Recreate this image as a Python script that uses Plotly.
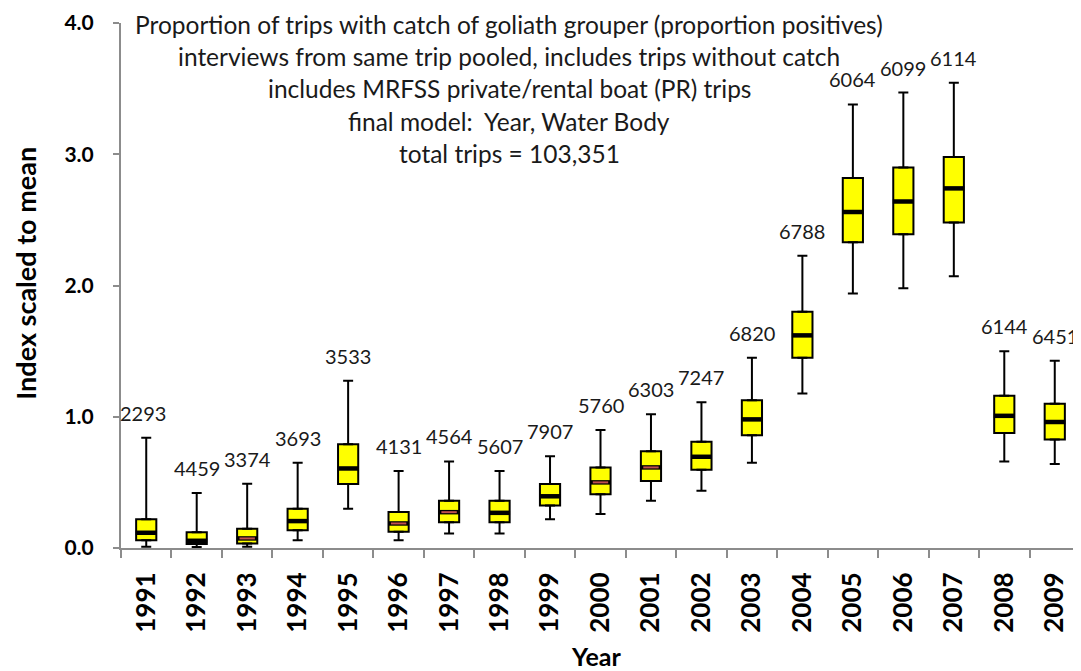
import plotly.graph_objects as go

years = [str(y) for y in range(1991, 2010)]
upper = [0.84, 0.42, 0.49, 0.65, 1.275, 0.586, 0.66, 0.586, 0.70, 0.90, 1.02, 1.11, 1.45, 2.227, 3.38, 3.47, 3.545, 1.50, 1.427]
q3 = [0.22, 0.12, 0.146, 0.30, 0.79, 0.275, 0.36, 0.36, 0.487, 0.614, 0.737, 0.81, 1.126, 1.80, 2.82, 2.90, 2.98, 1.16, 1.10]
median = [0.116, 0.055, 0.073, 0.205, 0.606, 0.187, 0.273, 0.268, 0.394, 0.50, 0.614, 0.695, 0.98, 1.62, 2.56, 2.64, 2.74, 1.007, 0.96]
q1 = [0.06, 0.03, 0.035, 0.136, 0.487, 0.124, 0.197, 0.197, 0.323, 0.41, 0.51, 0.596, 0.86, 1.45, 2.33, 2.39, 2.48, 0.876, 0.826]
lower = [0.01, 0.008, 0.01, 0.06, 0.30, 0.06, 0.11, 0.11, 0.22, 0.26, 0.36, 0.437, 0.65, 1.177, 1.94, 1.98, 2.07, 0.66, 0.64]
trips = ["2293", "4459", "3374", "3693", "3533", "4131", "4564", "5607", "7907", "5760",
         "6303", "7247", "6820", "6788", "6064", "6099", "6114", "6144", "6451"]
red_median_years = ["1993", "1996", "1997", "2000", "2001"]

title_lines = [
    "Proportion of trips with catch of goliath grouper (proportion positives)",
    "interviews from same trip pooled, includes trips without catch",
    "includes MRFSS private/rental boat (PR) trips",
    "final model:  Year, Water Body",
    "total trips = 103,351",
]

FONT = "Lato"
AXIS_GREY = "#8c8c8c"

fig = go.Figure()

# boxes (q1..q3)
fig.add_trace(go.Bar(
    x=years, y=[b - a for a, b in zip(q1, q3)], base=q1, width=0.4,
    marker=dict(color="#ffff00", line=dict(color="black", width=2)),
    showlegend=False, hoverinfo="skip",
))
# upper whiskers
fig.add_trace(go.Scatter(
    x=years, y=q3, mode="markers", marker=dict(size=1, color="rgba(0,0,0,0)"),
    error_y=dict(type="data", symmetric=False, array=[u - b for u, b in zip(upper, q3)],
                 arrayminus=[0] * len(years), color="black", thickness=2, width=5),
    showlegend=False, hoverinfo="skip",
))
# lower whiskers
fig.add_trace(go.Scatter(
    x=years, y=q1, mode="markers", marker=dict(size=1, color="rgba(0,0,0,0)"),
    error_y=dict(type="data", symmetric=False, array=[0] * len(years),
                 arrayminus=[a - l for a, l in zip(q1, lower)], color="black", thickness=2, width=5),
    showlegend=False, hoverinfo="skip",
))
# medians (black dash)
fig.add_trace(go.Scatter(
    x=years, y=median, mode="markers",
    marker=dict(symbol="line-ew", size=15, line=dict(color="black", width=4.5)),
    showlegend=False, hoverinfo="skip",
))
# red medians
red_x = [y for y in years if y in red_median_years]
red_y = [m for y, m in zip(years, median) if y in red_median_years]
fig.add_trace(go.Scatter(
    x=red_x, y=red_y, mode="markers",
    marker=dict(symbol="line-ew", size=11, line=dict(color="#c0504d", width=2)),
    showlegend=False, hoverinfo="skip",
))

annotations = []
for i, (u, t) in enumerate(zip(upper, trips)):
    annotations.append(dict(x=i, y=u, text=t, showarrow=False, yanchor="middle",
                            yshift=25, xshift=(-3 if i == 0 else 0),
                            font=dict(family=FONT, size=20, color="#1a1a1a")))

line_y = [0.998, 0.9364, 0.8749, 0.8133, 0.7518]
for txt, ly in zip(title_lines, line_y):
    annotations.append(dict(xref="paper", yref="paper", x=0.405, y=ly, text=txt,
                            showarrow=False, xanchor="center", yanchor="middle",
                            font=dict(family=FONT, size=24.5, color="#1a1a1a")))

annotations.append(dict(xref="paper", yref="paper", x=-0.100, y=0.5227,
                        text="<b>Index scaled to mean</b>", textangle=-90, showarrow=False,
                        xanchor="center", yanchor="middle",
                        font=dict(family=FONT, size=27, color="black")))
annotations.append(dict(xref="paper", yref="paper", x=0.4948, y=-0.205,
                        text="<b>Year</b>", showarrow=False,
                        xanchor="center", yanchor="middle",
                        font=dict(family=FONT, size=25, color="black")))

# page body has an 8px margin: figure is placed at (8, 8)
fig.update_layout(
    width=1073, height=663,
    margin=dict(l=113, r=1, t=12, b=123),
    paper_bgcolor="white", plot_bgcolor="white",
    bargap=0.6,
    annotations=annotations,
    xaxis=dict(
        type="category", categoryorder="array", categoryarray=years,
        range=[-0.5, len(years) - 0.5], autorange=False,
        showline=True, linecolor=AXIS_GREY, linewidth=2,
        ticks="outside", tickson="boundaries", ticklen=8, tickcolor=AXIS_GREY, tickwidth=1.5,
        tickangle=-90, ticklabelstandoff=12,
        tickfont=dict(family=FONT, size=26, color="black", weight="bold"),
        showgrid=False, zeroline=False,
    ),
    yaxis=dict(
        range=[0, 4], autorange=False, dtick=1, tick0=0, tickformat=".1f",
        showline=True, linecolor=AXIS_GREY, linewidth=2,
        ticks="outside", ticklen=6, tickcolor=AXIS_GREY, tickwidth=1.5,
        ticklabelposition="outside", ticklabelstandoff=15, ticklabeloverflow="allow",
        tickfont=dict(family=FONT, size=21, color="black", weight="bold"),
        showgrid=False, zeroline=False,
    ),
)

fig.write_html("out.html")
